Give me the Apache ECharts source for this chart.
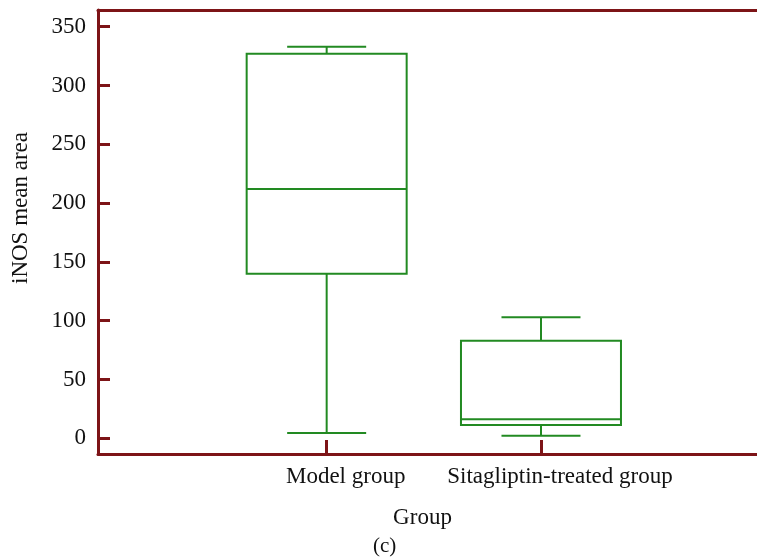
<!DOCTYPE html>
<html>
<head>
<meta charset="utf-8">
<script src="https://cdn.jsdelivr.net/npm/echarts@6/dist/echarts.min.js"></script>
<style>html,body{margin:0;padding:0;background:#fff}#c{width:757px;height:558px}</style>
</head>
<body>
<div id="c"></div>
<script>
const categories = ['Model group', 'Sitagliptin-treated group'];
const categoryPositions = [1, 2];
const mins = [4.5, 2.2];
const q1s = [140, 11.3];
const medians = [212, 16.2];
const q3s = [327, 83];
const maxs = [333, 103];
const yTicks = [0, 50, 100, 150, 200, 250, 300, 350];

const RED = '#7d1417';
const GREEN = '#228a22';
const FONT = 'Liberation Serif';

const data = categories.map((c, i) => [categoryPositions[i], mins[i], q1s[i], medians[i], q3s[i], maxs[i]]);

const chart = echarts.init(document.getElementById('c'));
chart.setOption({
  animation: false,
  grid: { left: 98, right: 0, top: 10, bottom: 104 },
  xAxis: [{
    type: 'value', min: -0.067, max: 3.008, position: 'bottom',
    name: 'Group', nameLocation: 'middle', nameGap: 52,
    nameTextStyle: { fontFamily: FONT, fontSize: 23, color: '#111', padding: [0, 10, 0, 0] },
    axisLine: { show: true, onZero: false, lineStyle: { color: RED, width: 3 } },
    axisTick: { show: true, inside: true, length: 14, customValues: categoryPositions, lineStyle: { color: RED, width: 3 } },
    axisLabel: { customValues: categoryPositions, formatter: v => categories[categoryPositions.indexOf(v)] || '',
      fontFamily: FONT, fontSize: 23, color: '#111', margin: 11, padding: [0, 0, 0, 38] },
    splitLine: { show: false }
  }, {
    type: 'value', min: -0.067, max: 3.008, position: 'top',
    axisLine: { show: true, onZero: false, lineStyle: { color: RED, width: 3 } },
    axisTick: { show: false }, axisLabel: { show: false }, splitLine: { show: false }
  }],
  yAxis: {
    type: 'value', min: -13.35, max: 364.2,
    axisLine: { show: true, onZero: false, lineStyle: { color: RED, width: 3 } },
    axisTick: { show: true, inside: true, length: 12, customValues: yTicks, lineStyle: { color: RED, width: 3 } },
    axisLabel: { customValues: yTicks, fontFamily: FONT, fontSize: 23, color: '#111', margin: 12 },
    splitLine: { show: false }
  },
  graphic: [
    { type: 'text', left: 9, top: 132, rotation: Math.PI / 2,
      style: { text: 'iNOS mean area', font: '23px "Liberation Serif"', fill: '#111' } },
    { type: 'text', left: 373, top: 536,
      style: { text: '(c)', font: '21px "Liberation Serif"', fill: '#111' } }
  ],
  series: [{
    type: 'custom',
    data: data,
    renderItem: function (params, api) {
      const x = api.value(0);
      const pMin = api.coord([x, api.value(1)]);
      const pQ1 = api.coord([x, api.value(2)]);
      const pMed = api.coord([x, api.value(3)]);
      const pQ3 = api.coord([x, api.value(4)]);
      const pMax = api.coord([x, api.value(5)]);
      const cx = pMin[0];
      const hw = 80, cw = 39.5;
      const st = { stroke: GREEN, lineWidth: 2, fill: null };
      const line = (x1, y1, x2, y2) => ({ type: 'line', shape: { x1, y1, x2, y2 }, style: st });
      return {
        type: 'group',
        children: [
          { type: 'rect', shape: { x: cx - hw, y: pQ3[1], width: 2 * hw, height: pQ1[1] - pQ3[1] }, style: { stroke: GREEN, lineWidth: 2, fill: 'none' } },
          line(cx - hw, pMed[1], cx + hw, pMed[1]),
          line(cx, pQ3[1], cx, pMax[1]),
          line(cx - cw, pMax[1], cx + cw, pMax[1]),
          line(cx, pQ1[1], cx, pMin[1]),
          line(cx - cw, pMin[1], cx + cw, pMin[1])
        ]
      };
    }
  }]
});
</script>
</body>
</html>
